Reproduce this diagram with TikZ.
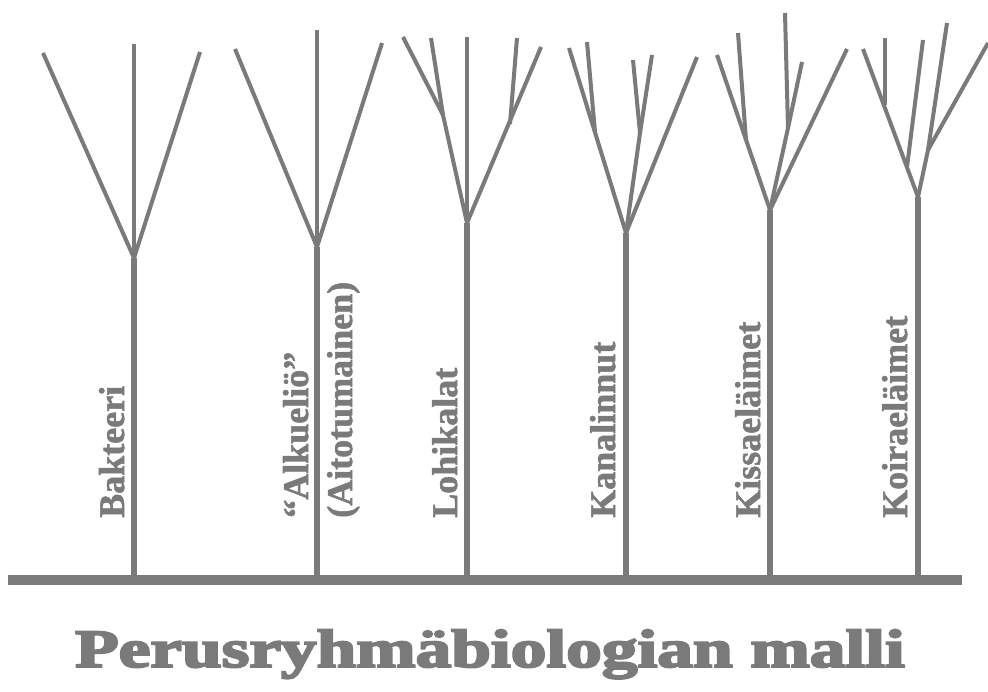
\documentclass[tikz,border=0pt]{standalone}
\usepackage{fontspec}
\setmainfont{Liberation Serif}
\newfontfamily\lblfont[RawFeature={embolden=1.5}]{Liberation Serif Bold}
\newfontfamily\ttlfont[RawFeature={embolden=3.5}]{Liberation Serif Bold}
\usepackage{xcolor}
\usepackage{tikz}
\usetikzlibrary{calc}
\definecolor{treegray}{RGB}{122,122,122}

\begin{document}
\begin{tikzpicture}[
  x=1pt, y=1pt,
  branch/.style={draw=treegray, line width=4pt, line join=miter},
  trunk/.style={draw=treegray, line width=6pt},
  ground/.style={draw=treegray, line width=10pt},
  lbl/.style={rotate=90, anchor=base west, inner sep=0pt, text=treegray,
    font=\fontsize{36}{40}\selectfont\lblfont},
  ttl/.style={anchor=base, inner sep=0pt, text=treegray, xscale=1.32,
    font=\fontsize{54}{60}\selectfont\ttlfont}
]
\useasboundingbox (0,0) rectangle (988,-691);

\coordinate (j1) at (134,-258);
\coordinate (j2) at (317,-247);
\coordinate (j3) at (467,-223);
\coordinate (j4) at (626,-233);
\coordinate (j5) at (770,-210);
\coordinate (j6) at (918,-197);

\draw[branch] (43,-53) -- (j1);
\draw[branch] (134,-44) -- (j1);
\draw[branch] (200,-52) -- (j1);

\draw[branch] (235,-49) -- (j2);
\draw[branch] (317,-30) -- (j2);
\draw[branch] (382,-43) -- (j2);

\draw[branch] (403,-37) -- (443,-115) -- (j3);
\draw[branch] (431,-38) -- (443,-115);
\draw[branch] (467,-37) -- (j3);
\draw[branch] (541,-47) -- (j3);
\draw[branch] (517,-38) -- (510,-124);

\draw[branch] (569,-48) -- (j4);
\draw[branch] (587,-42) -- (595,-132);
\draw[branch] (633,-60) -- (640,-133) -- (j4);
\draw[branch] (652,-55) -- (640,-133);
\draw[branch] (697,-57) -- (j4);

\draw[branch] (717,-55) -- (j5);
\draw[branch] (738,-33) -- (746,-140);
\draw[branch] (785,-13) -- (788,-128) -- (j5);
\draw[branch] (802,-62) -- (788,-128);
\draw[branch] (847,-49) -- (j5);

\draw[branch] (863,-49) -- (j6);
\draw[branch] (885,-38) -- (885,-105);
\draw[branch] (923,-40) -- (907,-167);
\draw[branch] (947,-23) -- (928,-150) -- (j6);
\draw[branch] (988,-43) -- (928,-150);

\coordinate (g0) at (8,-580);
\coordinate (g1) at (962,-580);
\foreach \j in {j1,j2,j3,j4,j5,j6}
  \draw[trunk] (\j) -- (\j |- g0);
\draw[ground] (g0) -- (g1);

\node[lbl] (bakteeri) at (124,-518) {Bakteeri};
\node[lbl] (alku1) at (308,-518) {“Alkueliö”};
\node[lbl] (alku2) at (352,-518) {(Aitotumainen)};
\node[lbl] (lohi) at (457,-518) {Lohikalat};
\node[lbl] (kana) at (615,-518) {Kanalinnut};
\node[lbl] (kissa) at (760,-518) {Kissaeläimet};
\node[lbl] (koira) at (907,-518) {Koiraeläimet};

\node[ttl] (title) at (490,-667) {Perusryhmäbiologian malli};
\end{tikzpicture}
\end{document}
